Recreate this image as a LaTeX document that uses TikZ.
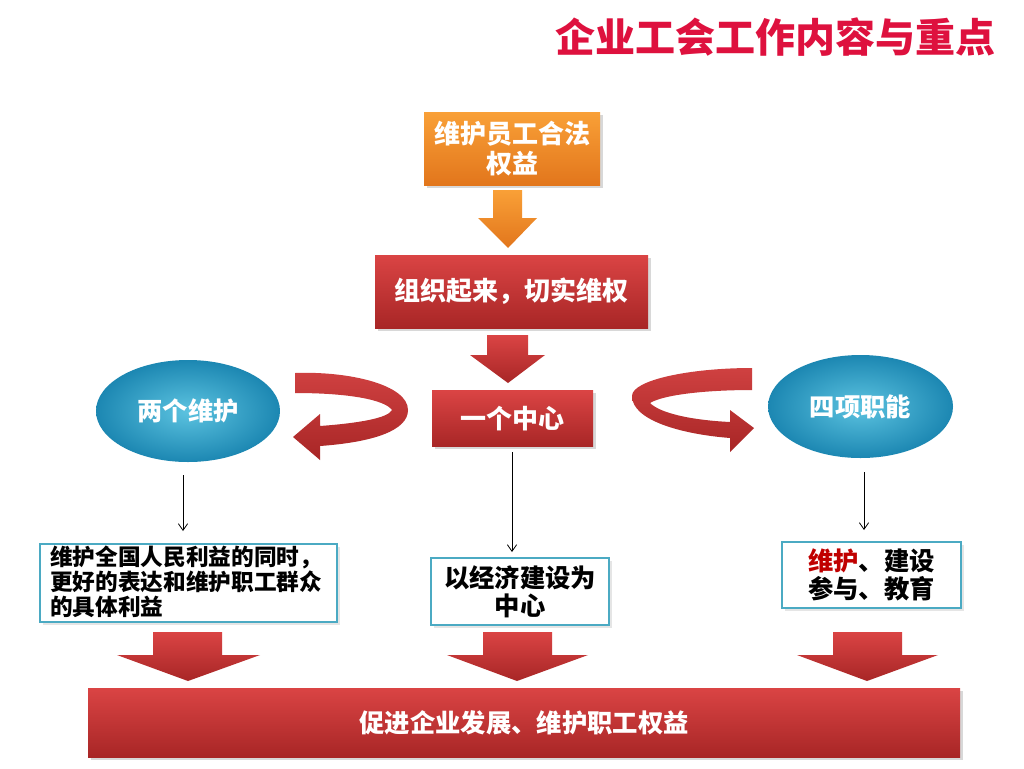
\documentclass[tikz,border=0pt]{standalone}
\usepackage{fontspec}
\setmainfont{Noto Sans CJK SC}
\usetikzlibrary{shadows,arrows.meta,shapes.geometric}
\definecolor{titlered}{RGB}{222,17,62}
\definecolor{rtop}{RGB}{218,68,68}
\definecolor{rbot}{RGB}{168,38,38}
\definecolor{otop}{RGB}{249,160,55}
\definecolor{obot}{RGB}{226,118,28}
\definecolor{tin}{RGB}{92,195,224}
\definecolor{tout}{RGB}{28,135,178}
\definecolor{tborder}{RGB}{75,170,195}
\definecolor{darkred}{RGB}{192,0,0}
\def\u{0.75pt}
\tikzset{
  redbox/.style={rectangle, top color=rtop, bottom color=rbot, draw=none, text=white,
    font=\bfseries\fontsize{19.5pt}{24pt}\selectfont, align=center, inner sep=0pt,
    drop shadow={opacity=0.3, shadow xshift=2pt, shadow yshift=-2pt}},
  orangebox/.style={rectangle, top color=otop, bottom color=obot, draw=none, text=white,
    font=\bfseries\fontsize{19.5pt}{22pt}\selectfont, align=center, inner sep=0pt,
    drop shadow={opacity=0.3, shadow xshift=2pt, shadow yshift=-2pt}},
  tealell/.style={ellipse, shading=radial, inner color=tin, outer color=tout, text=white,
    font=\bfseries\fontsize{19pt}{22pt}\selectfont, inner sep=0pt},
  textbox/.style={rectangle, draw=tborder, line width=2.2pt, fill=white, text=black,
    font=\bfseries\fontsize{19pt}{21pt}\selectfont, inner sep=0pt,
    drop shadow={opacity=0.2, shadow xshift=2pt, shadow yshift=-2pt}},
  blockred/.style={top color=rtop, bottom color=rbot},
  curl/.style={top color=rtop!95!black, bottom color=rbot},
  thinarrow/.style={draw=black, line width=0.6pt, -{Straight Barb[length=5pt,width=7pt]}}
}
\begin{document}
\begin{tikzpicture}[x=0.75pt,y=-0.75pt]
\useasboundingbox[fill=white] (0,0) rectangle (1024,768);

% title
\node[text=titlered, font=\bfseries\fontsize{30pt}{34pt}\selectfont, anchor=center] (title) at (775,37) {企业工会工作内容与重点};

% orange box
\node[orangebox, minimum width=176*\u, minimum height=73*\u] (top) at (512,148.5) {维护员工合法\\权益};
% orange arrow
\shade[top color=otop, bottom color=obot] (493,190) -- (522,190) -- (522,218) -- (537,218) -- (508,248) -- (478,218) -- (493,218) -- cycle;

% red box 2
\node[redbox, minimum width=273*\u, minimum height=73*\u] (org) at (511.5,291.5) {组织起来，切实维权};
% red arrow
\shade[blockred] (487,335) -- (528,335) -- (528,355) -- (545,355) -- (508,383) -- (470,355) -- (487,355) -- cycle;

% center box
\node[redbox, minimum width=161*\u, minimum height=56*\u] (one) at (512.5,418.5) {一个中心};

% ellipses
\node[tealell, minimum width=184*\u, minimum height=102*\u] (two) at (188,411) {两个维护};
\node[tealell, minimum width=185*\u, minimum height=103*\u] (four) at (860.5,406.5) {四项职能};

% curls
\shade[curl] (295,373) .. controls (350,371) and (408,385) .. (408,410)
  .. controls (408,430) and (375,442) .. (320,446)
  -- (320,460) -- (293,437) -- (320,414) -- (320,426)
  .. controls (360,423) and (388,418) .. (392,410)
  .. controls (385,400) and (350,393) .. (295,393) -- cycle;
\shade[curl] (752,368) .. controls (690,368) and (632,380) .. (632,396)
  .. controls (632,420) and (680,434) .. (730,438)
  -- (730,452) -- (754,428) -- (730,410) -- (730,422)
  .. controls (690,420) and (660,413) .. (650,403)
  .. controls (665,394) and (710,390) .. (752,390) -- cycle;

% text boxes
\node[textbox, minimum width=297*\u, minimum height=78*\u] (b1) at (188.5,583) {};
\node[font=\bfseries\fontsize{17pt}{18.75pt}\selectfont, align=left, anchor=north west, inner sep=0pt] (b1t) at (50,546) {维护全国人民利益的同时，\\更好的表达和维护职工群众\\的具体利益};
\node[textbox, minimum width=178*\u, minimum height=67*\u, align=center] (b2) at (520,591.5) {以经济建设为\\中心};
\node[textbox, minimum width=179*\u, minimum height=66*\u, align=center] (b3) at (871.5,575) {\textcolor{darkred}{维护}、建设\\参与、教育};

% thin arrows
\coordinate (s1) at (183,475); \coordinate (e1) at (183,531);
\coordinate (s2) at (512,452); \coordinate (e2) at (512,552);
\coordinate (s3) at (864,472); \coordinate (e3) at (864,530);
\draw[thinarrow] (s1) -- (e1);
\draw[thinarrow] (s2) -- (e2);
\draw[thinarrow] (s3) -- (e3);

% bottom block arrows
\shade[blockred] (153,632) -- (222,632) -- (222,655) -- (260,655) -- (188,681) -- (117,655) -- (153,655) -- cycle;
\shade[blockred] (483,632) -- (552,632) -- (552,655) -- (588,655) -- (517,681) -- (447,655) -- (483,655) -- cycle;
\shade[blockred] (833,632) -- (902,632) -- (902,655) -- (938,655) -- (867,681) -- (797,655) -- (833,655) -- cycle;

% bottom bar
\node[redbox, minimum width=872*\u, minimum height=69*\u, font=\bfseries\fontsize{19pt}{22pt}\selectfont] (bar) at (524,722.5) {促进企业发展、维护职工权益};
\end{tikzpicture}
\end{document}
